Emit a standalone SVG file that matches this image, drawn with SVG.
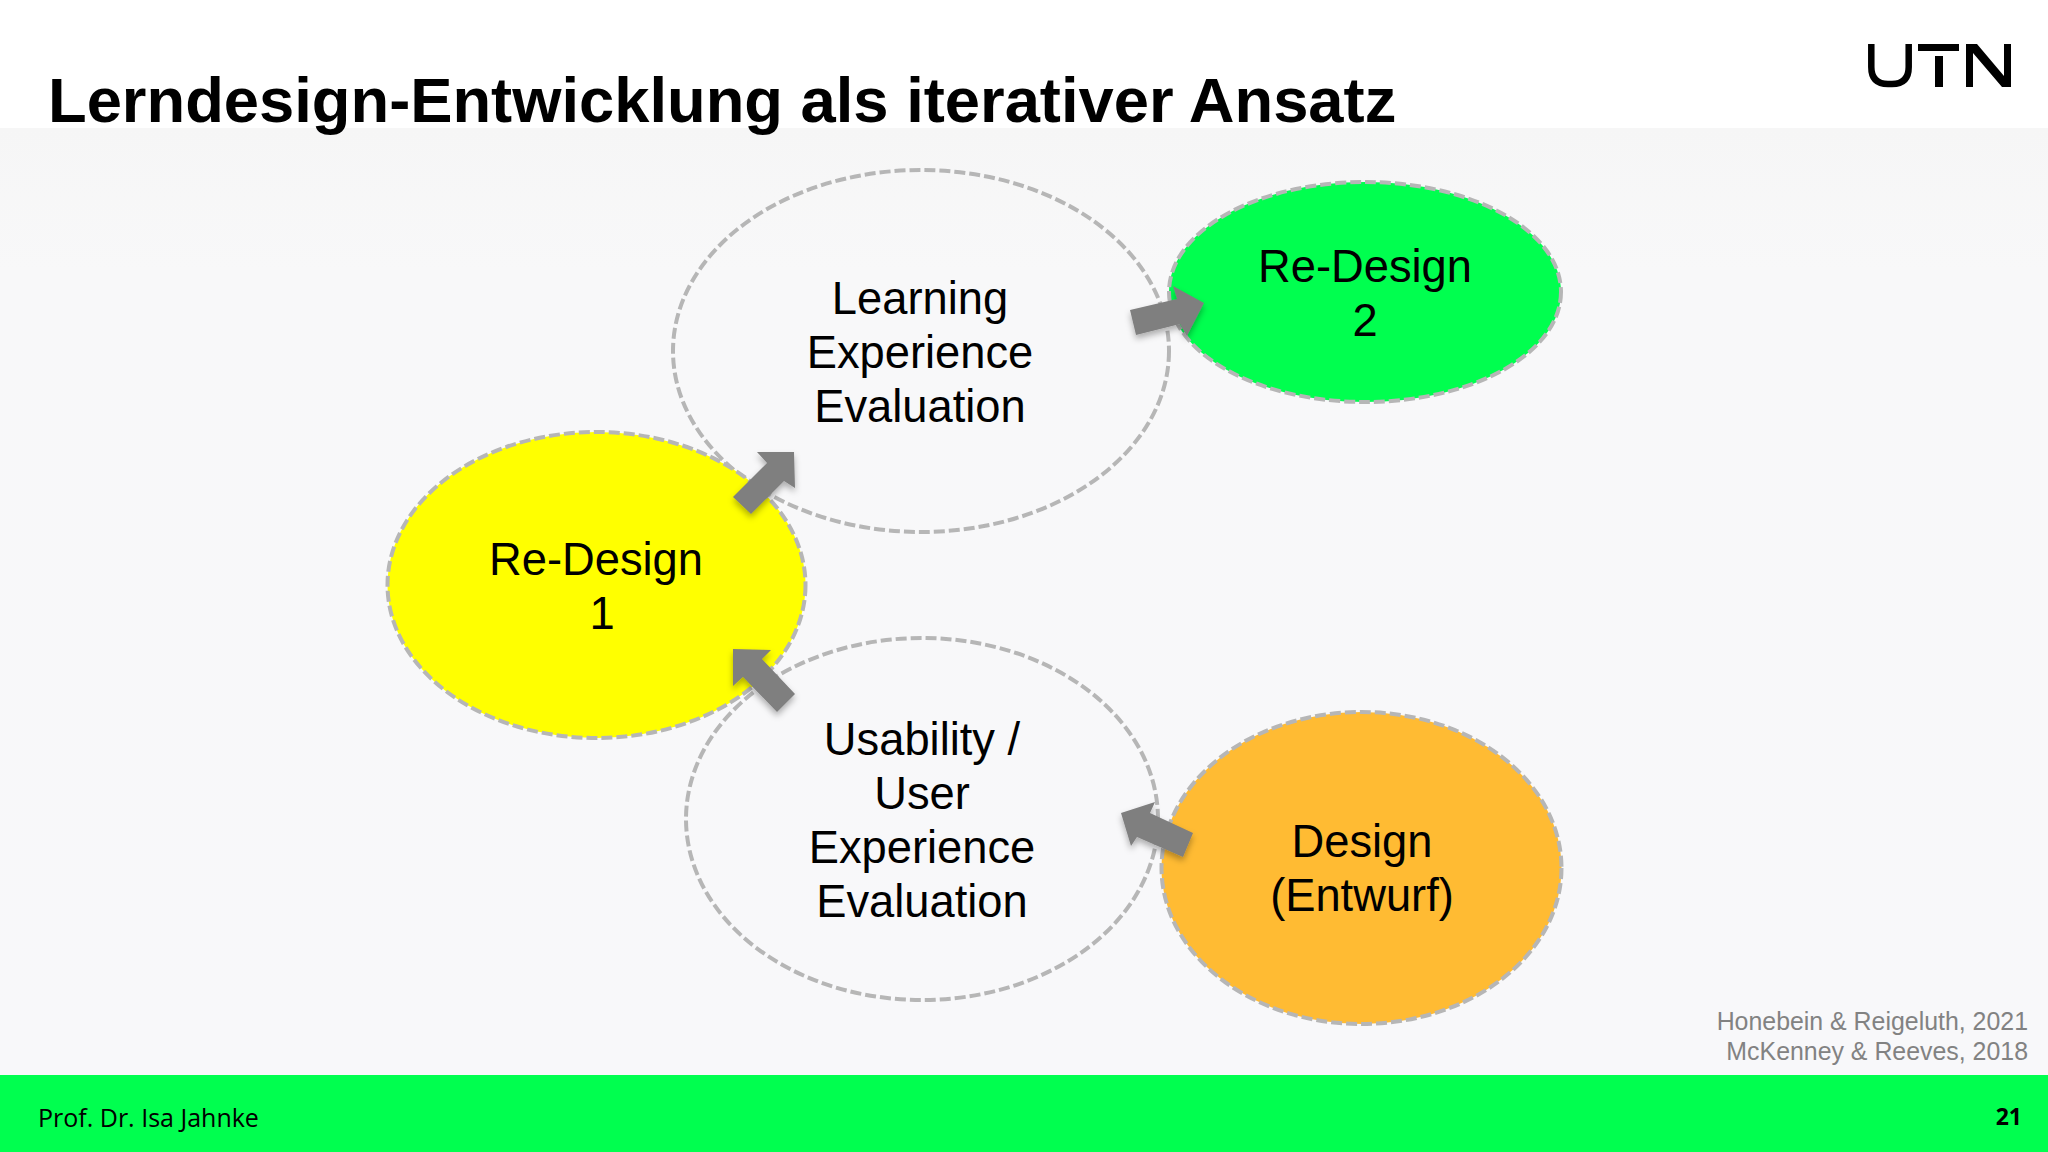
<svg xmlns="http://www.w3.org/2000/svg" width="2048" height="1152" viewBox="0 0 2048 1152">
<style>
.e{stroke:#b6b6b6;stroke-width:4;stroke-dasharray:11 4}
.t{font-family:"Liberation Sans",Arial,sans-serif;font-size:45.3px;text-anchor:middle;fill:#000}
.a{fill:#7f7f7f;filter:url(#s)}
.r{font-family:"Liberation Sans",Arial,sans-serif;font-size:24.9px;text-anchor:end;fill:#828282}
</style>
<defs>
<linearGradient id="bg" x1="0" y1="0" x2="0" y2="1"><stop offset="0" stop-color="#f6f6f6"/><stop offset="0.15" stop-color="#f8f8f9"/><stop offset="1" stop-color="#f8f8fa"/></linearGradient>
<filter id="s" x="-30%" y="-30%" width="160%" height="160%"><feDropShadow dx="0" dy="4" stdDeviation="3" flood-color="#000" flood-opacity="0.3"/></filter>
</defs>
<rect width="2048" height="1152" fill="#fff"/>
<rect y="128" width="2048" height="948" fill="url(#bg)"/>
<rect y="1075" width="2048" height="77" fill="#00ff4f"/>
<text x="48" y="121.5" font-family="'Liberation Sans',Arial,sans-serif" font-weight="bold" font-size="63.3" fill="#000">Lerndesign-Entwicklung als iterativer Ansatz</text>
<g id="logo"><path d="M1871.3 44V67Q1871.3 84 1888 84H1892Q1908.7 84 1908.7 67V44" fill="none" stroke="#000" stroke-width="6.5"/><path d="M1918 44H1959V51H1918ZM1935 56H1943V87H1935ZM1966 44H1977L2004 76V44H2011V87H2002L1973 53V87H1966Z" fill="#000"/></g>
<g id="evaluation-learning"><ellipse class="e" cx="921" cy="351" rx="248" ry="181" fill="none"/><text class="t"><tspan x="920" y="314">Learning</tspan><tspan x="920" y="368">Experience</tspan><tspan x="920" y="422">Evaluation</tspan></text></g>
<g id="redesign2"><ellipse class="e" cx="1365" cy="292" rx="196" ry="110" fill="#00ff4f"/><text class="t"><tspan x="1365" y="282">Re-Design</tspan><tspan x="1365" y="336">2</tspan></text></g>
<g id="redesign1"><ellipse class="e" cx="596.5" cy="585" rx="209" ry="153" fill="#ffff00"/><text class="t"><tspan x="596" y="575">Re-Design</tspan><tspan x="602" y="629">1</tspan></text></g>
<g id="evaluation-usability"><ellipse class="e" cx="922" cy="819" rx="236" ry="181" fill="none"/><text class="t"><tspan x="922" y="755">Usability /</tspan><tspan x="922" y="809">User</tspan><tspan x="922" y="863">Experience</tspan><tspan x="922" y="917">Evaluation</tspan></text></g>
<g id="design"><ellipse class="e" cx="1361.5" cy="868" rx="200" ry="156" fill="#ffbb33"/><text class="t"><tspan x="1362" y="857">Design</tspan><tspan x="1362" y="911">(Entwurf)</tspan></text></g>
<g id="connectors">
<polygon class="a" points="733,497 767,463 757,452 794,452 795,488 784,481 751,514"/>
<polygon class="a" points="1130,310 1177,299 1173,286 1204,303 1187,336 1180,324 1136,335"/>
<polygon class="a" points="733,649 771,650 762,659 795,694 777,712 743,677 733,686"/>
<polygon class="a" points="1121,813 1155,802 1150,813 1193,833 1183,857 1137,837 1131,846"/>
</g>
<text class="r" x="2028" y="1030">Honebein &amp; Reigeluth, 2021</text>
<text class="r" x="2028" y="1060">McKenney &amp; Reeves, 2018</text>
<text x="38" y="1127" font-family="'Open Sans',sans-serif" font-size="25" fill="#000">Prof. Dr. Isa Jahnke</text>
<text x="2022" y="1125" text-anchor="end" font-family="'Open Sans',sans-serif" font-weight="bold" font-size="23" fill="#000">21</text>
</svg>
